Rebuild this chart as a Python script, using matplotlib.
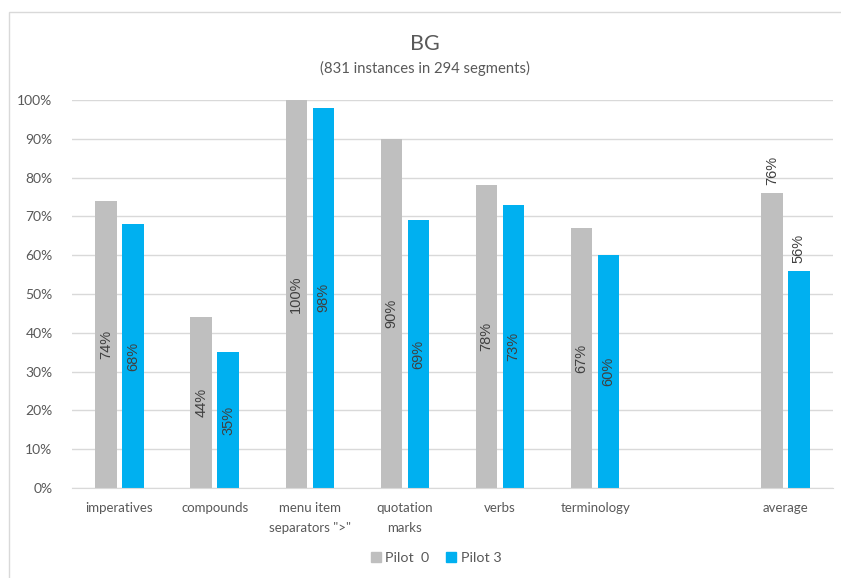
import numpy as np
import matplotlib.pyplot as plt
from matplotlib.patches import Rectangle

categories = ["imperatives", "compounds", "menu item\nseparators \">\"",
              "quotation\nmarks", "verbs", "terminology", "", "average"]
pilot0 = [74, 44, 100, 90, 78, 67, None, 76]
pilot3 = [68, 35, 98, 69, 73, 60, None, 56]
series_names = ["Pilot  0", "Pilot 3"]
colors = ["#BFBFBF", "#00B0F0"]
yticks = list(range(0, 101, 10))

txt = "#595959"
lab = "#404040"

fig = plt.figure(figsize=(8.41, 5.78), dpi=100)
fig.patches.append(Rectangle((9 / 841, -0.01), 1.0, (578 - 12) / 578 + 0.01,
                             transform=fig.transFigure, fill=False,
                             edgecolor="#D9D9D9", lw=1.0))
ax = fig.add_axes([72 / 841, 90 / 578, 761 / 841, 388 / 578])

x = np.arange(len(categories))
w = 0.225
off = 0.142
for vals, c, d in ((pilot0, colors[0], -off), (pilot3, colors[1], off)):
    for i, v in enumerate(vals):
        if v is None:
            continue
        ax.bar(x[i] + d, v, width=w, color=c, zorder=3)
        # the average bars carry their labels above the bar
        if categories[i] == "average":
            ax.text(x[i] + d, v + 2, f"{v}%", rotation=90, ha="center",
                    va="bottom", fontsize=10.5, color=lab,
                    family="Liberation Sans")
        else:
            ax.text(x[i] + d, v / 2, f"{v}%", rotation=90, ha="center",
                    va="center", fontsize=10.5, color=lab,
                    family="Liberation Sans")

ax.set_xlim(-0.5, len(categories) - 0.5)
ax.set_ylim(0, 100)
ax.set_yticks(yticks)
ax.set_yticklabels([f"{t}%" for t in yticks], family="Lato", fontsize=10,
                   color=txt)
ax.set_xticks(x)
ax.set_xticklabels(categories, family="Lato", fontsize=9.5, color=txt,
                   linespacing=1.85)
ax.tick_params(length=0)
ax.tick_params(axis="x", pad=10)
ax.tick_params(axis="y", pad=14)
ax.grid(axis="y", color="#D9D9D9", lw=1.0, zorder=0)
for s in ["top", "right", "left"]:
    ax.spines[s].set_visible(False)
ax.spines["bottom"].set_color("#D9D9D9")
ax.spines["bottom"].set_zorder(4)

fig.text(0.5 + 9 / 841 / 2, 1 - 44 / 578, "BG", ha="center", va="center",
         fontsize=15.5, color=txt, family="Lato")
fig.text(0.5 + 9 / 841 / 2, 1 - 68 / 578, "(831 instances in 294 segments)",
         ha="center", va="center", fontsize=10.7, color=txt, family="Lato")

handles = [Rectangle((0, 0), 1, 1, color=c) for c in colors]
fig.legend(handles, series_names, loc="center", bbox_to_anchor=(436 / 841, 1 - 558 / 578),
           ncol=2, frameon=False, handlelength=0.7, handleheight=0.7,
           handletextpad=0.3, columnspacing=1.2,
           prop={"family": "Lato", "size": 10.3}, labelcolor=txt)

fig.savefig("out.png", dpi=100)
